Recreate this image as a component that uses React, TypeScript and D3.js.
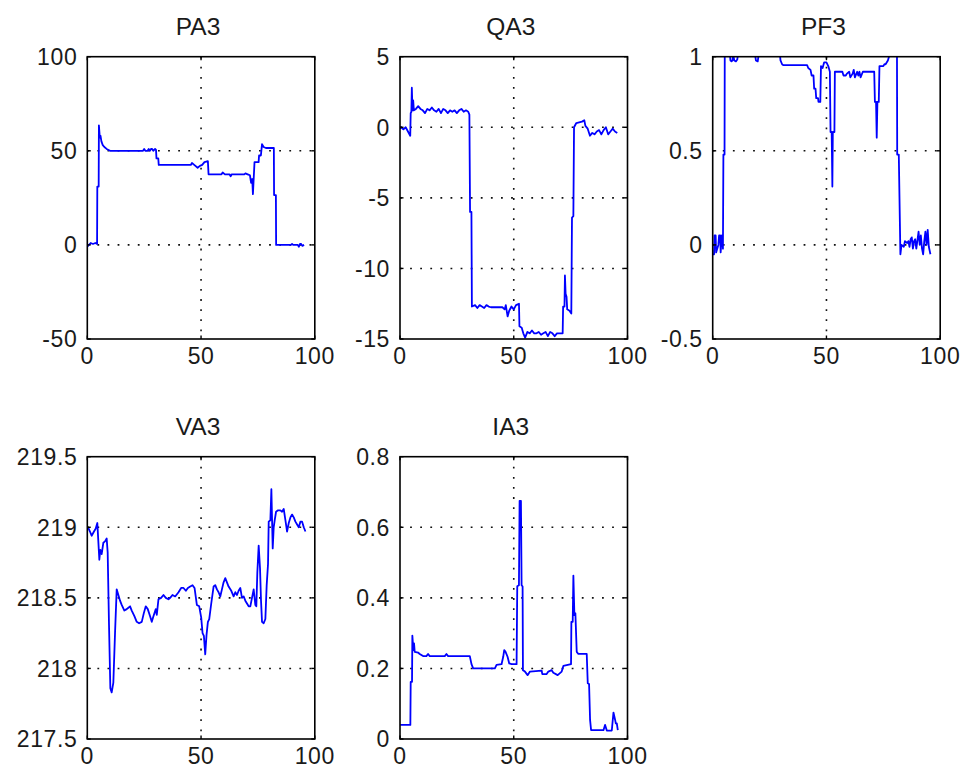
import React from "react";
import * as d3 from "d3";

type Pt = [number, number];

const X_TICKS = [0, 50, 100];

const PA3: Pt[] = [[0,-1],[0.7,0],[1.5,1],[2.5,0.5],[3.5,1],[4.3,0.5],[4.4,31],[5.0,31],[5.1,63.5],[5.5,57],[5.8,58],[6.2,55],[6.8,53],[7.5,52],[8.5,51],[10,50],[24.5,50],[25,51],[25.5,50],[26.5,50],[27,51],[27.5,50],[28,51],[28.5,51],[29,50],[29.8,51],[30.2,50.5],[30.4,46],[31.2,46],[31.4,42.5],[45.5,42.5],[46,43.5],[47,42.5],[48.5,41],[49.5,42],[50.5,42.5],[51.5,44],[53,44.5],[53.3,37.5],[59,37.5],[59.5,38.5],[60.5,37.5],[62.5,37.5],[63,36.5],[63.5,37.5],[69,37.5],[69.5,38],[70.5,37.5],[71.5,37],[72,33],[72.5,35],[72.8,27],[73.5,44],[75.3,44],[75.5,47.5],[76.3,47.5],[76.8,53.5],[77.5,52],[78.5,51.5],[82,51.5],[82.1,26.5],[82.9,26.5],[83,0],[89.5,0],[90,0.5],[90.5,0],[92.5,0],[93,-1],[93.5,0.5],[94,0.5],[94.5,-0.5],[95.3,0]];

const QA3: Pt[] = [[0,-0.1],[0.5,0],[1.5,-0.15],[2.5,0],[3.5,-0.3],[4.5,-0.6],[4.7,1.0],[5.0,1.1],[5.2,2.8],[5.5,1.2],[5.8,1.9],[6.1,1.2],[7,1.3],[8,1.5],[9,1.3],[10,1.2],[11,1.0],[12,1.3],[13,1.2],[14,1.4],[15,1.2],[16,1.1],[17,1.3],[18,1.0],[19,1.3],[20,1.2],[21,1.0],[22,1.2],[23,1.1],[24,1.2],[25,1.0],[26,1.2],[27,1.3],[28,1.1],[29,1.2],[30,1.1],[30.5,0.9],[30.8,-6.0],[31.4,-6.0],[31.6,-12.7],[33,-12.6],[34,-12.8],[35,-12.6],[36,-12.7],[37,-12.8],[38,-12.6],[39,-12.7],[40,-12.75],[45,-12.75],[46,-12.9],[46.5,-12.6],[47.3,-13.4],[48,-13.0],[49,-12.7],[50,-12.9],[51,-12.6],[52.3,-12.5],[52.5,-14.1],[53.5,-14.2],[54.2,-14.6],[55,-14.9],[56,-14.5],[57,-14.6],[58,-14.4],[59,-14.6],[60,-14.6],[61,-14.5],[62,-14.7],[63,-14.6],[64,-14.5],[65,-14.8],[66,-14.5],[67,-14.6],[68,-14.8],[69,-14.6],[70,-14.6],[71.5,-14.6],[71.7,-12.7],[72.3,-12.7],[72.5,-10.5],[72.8,-11.8],[73.2,-12.0],[73.5,-12.9],[74.5,-13.0],[75.3,-13.2],[75.6,-6.4],[76.2,-6.3],[76.5,0.0],[77.5,0.3],[80,0.4],[81,0.5],[81.5,0.1],[82.5,-0.1],[83.5,-0.6],[84.5,-0.4],[85.5,-0.5],[86.5,-0.3],[87.5,-0.2],[88.5,-0.5],[89.5,-0.2],[90.5,0.0],[91.5,-0.5],[92.5,-0.3],[93.5,-0.1],[94.5,-0.3],[95.5,-0.4]];

const PF3: Pt[] = [[0,-0.05],[0.6,-0.05],[0.8,0.05],[1.3,0.05],[1.5,-0.04],[2.5,0],[2.8,0.05],[3.3,0.05],[3.5,-0.04],[4.0,0.05],[4.3,0.05],[4.5,-0.02],[4.7,0.48],[5.2,0.48],[5.3,1.02],[7.5,1.02],[7.8,0.98],[8.3,0.975],[8.7,0.98],[9,1.01],[9.5,0.98],[10.2,0.975],[10.8,0.985],[11.2,1.02],[18.5,1.02],[19,0.98],[19.8,0.975],[20.3,1.02],[29.5,1.02],[29.8,0.98],[30.5,0.96],[31,0.955],[41.5,0.955],[42,0.94],[43,0.93],[43.5,0.9],[44.3,0.9],[44.6,0.83],[45.2,0.83],[45.5,0.78],[46.3,0.78],[46.5,0.76],[47.3,0.76],[47.6,0.95],[48.3,0.94],[49,0.97],[50,0.97],[50.8,0.95],[51.5,0.92],[51.8,0.6],[52.3,0.6],[52.6,0.31],[52.8,0.6],[53.5,0.6],[53.7,0.92],[55,0.92],[57,0.92],[57.5,0.9],[58.5,0.9],[59,0.91],[60,0.92],[60.5,0.89],[61.5,0.91],[62,0.93],[62.5,0.89],[63.5,0.92],[64,0.9],[64.5,0.92],[65,0.89],[66,0.92],[71,0.92],[71.3,0.76],[71.8,0.76],[72.1,0.57],[72.4,0.76],[73,0.76],[73.3,0.95],[75,0.95],[75.5,0.96],[76,0.96],[77,0.98],[78,1.02],[81,1.02],[81.1,0.48],[81.8,0.48],[82.5,-0.05],[83,0.0],[84,-0.01],[84.5,0.02],[85.5,0.01],[86,0.02],[86.5,-0.01],[87,0.03],[87.5,0.04],[88,-0.02],[88.5,0.02],[89,0.03],[89.5,-0.02],[90.5,0.07],[91,0.0],[91.5,0.05],[92,-0.02],[92.5,-0.05],[93,0.02],[93.5,0.07],[94,0.0],[94.5,0.08],[95,-0.01],[95.7,-0.05]];

const VA3: Pt[] = [[0,219.0],[0.44,218.995],[1.17,218.97],[1.91,218.94],[2.94,218.97],[3.67,218.99],[4.41,219.03],[4.85,218.9],[5.29,218.77],[5.73,218.84],[6.31,218.81],[7.05,218.89],[7.78,218.9],[8.52,218.92],[8.96,218.82],[9.54,218.31],[10.13,217.86],[10.72,217.83],[11.45,217.9],[12.19,218.25],[12.92,218.56],[13.66,218.52],[14.39,218.48],[15.12,218.45],[16.3,218.41],[17.33,218.42],[18.06,218.43],[18.8,218.44],[19.53,218.41],[20.7,218.37],[21.73,218.33],[22.76,218.32],[23.94,218.33],[24.82,218.39],[25.7,218.44],[26.58,218.42],[27.6,218.37],[28.34,218.33],[29.07,218.37],[30.1,218.42],[30.54,218.38],[31.28,218.49],[32.45,218.5],[33.48,218.52],[34.51,218.5],[35.68,218.49],[36.42,218.5],[37.44,218.52],[38.62,218.51],[40.09,218.54],[41.26,218.57],[42.29,218.57],[43.32,218.55],[44.2,218.57],[45.23,218.58],[46.26,218.59],[47.14,218.57],[48.16,218.45],[49.19,218.44],[50.07,218.36],[50.66,218.25],[51.25,218.23],[51.84,218.1],[52.42,218.24],[53.01,218.33],[53.6,218.35],[54.48,218.46],[55.51,218.58],[56.24,218.59],[56.98,218.56],[57.71,218.54],[58.44,218.51],[59.18,218.56],[59.91,218.61],[60.65,218.64],[61.38,218.61],[62.11,218.58],[63.29,218.55],[64.32,218.51],[65.05,218.54],[65.79,218.52],[66.52,218.55],[67.25,218.57],[67.99,218.5],[68.72,218.51],[69.46,218.48],[70.19,218.46],[70.93,218.44],[71.66,218.44],[72.39,218.5],[73.13,218.56],[73.86,218.45],[74.3,218.44],[74.74,218.68],[75.33,218.87],[75.92,218.71],[76.36,218.48],[76.8,218.33],[77.53,218.32],[78.27,218.35],[78.85,218.59],[79.44,218.74],[79.74,219.04],[80.47,219.05],[80.91,219.27],[81.5,218.85],[81.94,219.0],[82.38,219.05],[82.97,219.11],[83.85,219.12],[84.88,219.12],[85.61,219.11],[86.34,219.13],[87.08,219.05],[87.81,218.97],[88.55,219.03],[89.28,219.07],[90.01,219.09],[90.75,219.07],[91.48,219.04],[92.22,219.02],[92.95,219.0],[93.69,219.04],[94.42,219.04],[95.15,219.0],[95.89,218.97]];

const IA3: Pt[] = [[0.1,0.04],[4.55,0.04],[4.7,0.162],[5.29,0.162],[5.43,0.293],[5.87,0.252],[6.17,0.271],[6.46,0.247],[7.93,0.245],[8.66,0.241],[10.13,0.235],[11.6,0.235],[12.33,0.241],[13.07,0.235],[19.68,0.235],[20.41,0.241],[21.15,0.235],[30.69,0.235],[31.42,0.212],[32.16,0.2],[41.7,0.2],[42.44,0.21],[44.64,0.212],[45.37,0.233],[45.81,0.252],[46.4,0.247],[47.28,0.233],[48.02,0.214],[49.05,0.212],[51.25,0.212],[51.54,0.433],[52.28,0.436],[52.57,0.675],[53.16,0.675],[53.45,0.436],[53.89,0.432],[54.04,0.195],[54.92,0.191],[56.09,0.181],[57.12,0.191],[62.26,0.194],[62.56,0.184],[64.46,0.184],[65.2,0.191],[66.67,0.195],[67.4,0.188],[69.31,0.181],[71.07,0.191],[71.81,0.207],[75.18,0.212],[75.33,0.332],[75.92,0.332],[76.21,0.463],[76.65,0.351],[77.09,0.356],[77.68,0.247],[78.41,0.241],[82.08,0.241],[82.53,0.158],[83.11,0.156],[83.55,0.054],[84,0.025],[89.43,0.025],[90.16,0.04],[90.9,0.024],[93.1,0.024],[93.83,0.075],[94.57,0.054],[94.86,0.044],[95.3,0.044],[95.74,0.025]];

const PA3_TICKS = [-50, 0, 50, 100];
const QA3_TICKS = [-15, -10, -5, 0, 5];
const PF3_TICKS = [-0.5, 0, 0.5, 1];
const VA3_TICKS = [217.5, 218, 218.5, 219, 219.5];
const IA3_TICKS = [0, 0.2, 0.4, 0.6, 0.8];

const panels = [
  { title: "PA3", data: PA3, ticks: PA3_TICKS, col: 0, row: 0 },
  { title: "QA3", data: QA3, ticks: QA3_TICKS, col: 1, row: 0 },
  { title: "PF3", data: PF3, ticks: PF3_TICKS, col: 2, row: 0 },
  { title: "VA3", data: VA3, ticks: VA3_TICKS, col: 0, row: 1 },
  { title: "IA3", data: IA3, ticks: IA3_TICKS, col: 1, row: 1 },
];

const LEFTS = [87.3, 400, 712.7];
const TOPS = [56.7, 456.7];
const W = 227.5;
const H = 282.3;
const FONT = "'Liberation Sans', Arial, sans-serif";

function Panel({ p, idx }: { p: (typeof panels)[number]; idx: number }) {
  const x0 = LEFTS[p.col];
  const y0 = TOPS[p.row];
  const ext = d3.extent(p.ticks) as [number, number];
  const xs = d3.scaleLinear().domain([0, 100]).range([x0, x0 + W]);
  const ys = d3.scaleLinear().domain(ext).range([y0 + H, y0]);
  const line = d3
    .line<Pt>()
    .x((d) => xs(d[0]))
    .y((d) => ys(d[1]));
  const clipId = `clip-${idx}`;
  const tickLen = 3.5;
  const gridStyle = { stroke: "#111", strokeWidth: 1.6, strokeDasharray: "1.8 8.3" };
  return (
    <g>
      <defs>
        <clipPath id={clipId}>
          <rect x={x0} y={y0} width={W} height={H} />
        </clipPath>
      </defs>
      {X_TICKS.filter((t) => t > 0 && t < 100).map((t) => (
        <line key={"gx" + t} x1={xs(t)} x2={xs(t)} y1={y0} y2={y0 + H} style={gridStyle} />
      ))}
      {p.ticks
        .filter((t) => t > ext[0] && t < ext[1])
        .map((t) => (
          <line key={"gy" + t} x1={x0} x2={x0 + W} y1={ys(t)} y2={ys(t)} style={gridStyle} />
        ))}
      <path
        d={line(p.data) || ""}
        fill="none"
        stroke="#0000ff"
        strokeWidth={1.8}
        strokeLinejoin="round"
        clipPath={`url(#${clipId})`}
      />
      {X_TICKS.map((t) => (
        <g key={"tx" + t}>
          <line x1={xs(t)} x2={xs(t)} y1={y0 + H} y2={y0 + H - tickLen} stroke="#000" strokeWidth={1.4} />
          <line x1={xs(t)} x2={xs(t)} y1={y0} y2={y0 + tickLen} stroke="#000" strokeWidth={1.4} />
          <text
            x={xs(t)}
            y={y0 + H + 25}
            textAnchor="middle"
            fontFamily={FONT}
            fontSize={23}
            letterSpacing={0.6}
            fill="#1a1a1a"
          >
            {t}
          </text>
        </g>
      ))}
      {p.ticks.map((t) => (
        <g key={"ty" + t}>
          <line x1={x0} x2={x0 + tickLen} y1={ys(t)} y2={ys(t)} stroke="#000" strokeWidth={1.4} />
          <line x1={x0 + W} x2={x0 + W - tickLen} y1={ys(t)} y2={ys(t)} stroke="#000" strokeWidth={1.4} />
          <text
            x={x0 - 10}
            y={ys(t) + 8.3}
            textAnchor="end"
            fontFamily={FONT}
            fontSize={23}
            letterSpacing={0.6}
            fill="#1a1a1a"
          >
            {t}
          </text>
        </g>
      ))}
      <rect x={x0} y={y0} width={W} height={H} fill="none" stroke="#000" strokeWidth={1.6} />
      <text
        x={x0 + W / 2 - 3}
        y={y0 - 21.7}
        textAnchor="middle"
        fontFamily={FONT}
        fontSize={24.5}
        fill="#1a1a1a"
      >
        {p.title}
      </text>
    </g>
  );
}

export default function App() {
  return (
    <svg
      width={964}
      height={774}
      viewBox="0 0 964 774"
      style={{ position: "absolute", left: 0, top: 0, background: "#fff" }}
    >
      <rect x={0} y={0} width={964} height={774} fill="#fff" />
      {panels.map((p, i) => (
        <Panel key={p.title} p={p} idx={i} />
      ))}
    </svg>
  );
}
